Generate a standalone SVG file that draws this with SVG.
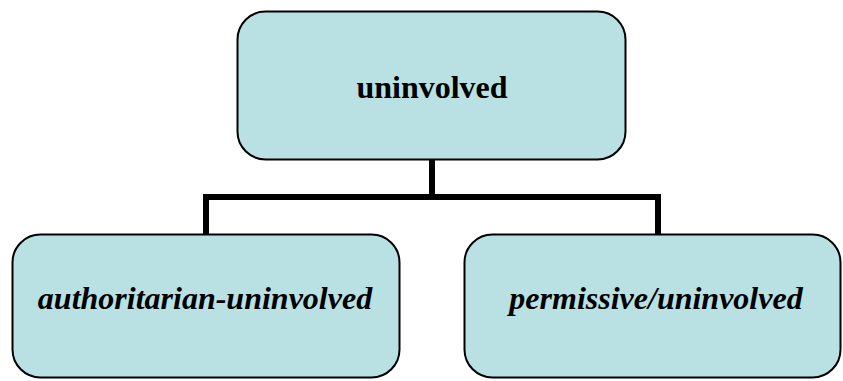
<svg xmlns="http://www.w3.org/2000/svg" width="843" height="381" viewBox="0 0 843 381">
  <style>
    .box { fill: #B9E0E3; stroke: #000; stroke-width: 2; }
    .lbl { font-family: 'Liberation Serif', serif; font-size: 32px; font-weight: 700; fill: #000; text-anchor: middle; }
    .it { font-style: italic; }
    .wire { fill: none; stroke: #000; stroke-width: 6; stroke-linejoin: miter; stroke-linecap: butt; }
  </style>
  <rect width="843" height="381" fill="#fff"/>
  <g id="connectors">
    <path class="wire" d="M432 160 V197 M206 235 V197 H658 V235"/>
  </g>
  <g id="node-uninvolved">
    <rect class="box" x="237.5" y="11.5" width="388" height="148" rx="28" ry="28"/>
    <text class="lbl" x="432" y="98">uninvolved</text>
  </g>
  <g id="node-authoritarian-uninvolved">
    <rect class="box" x="12.5" y="234.5" width="387" height="143" rx="28" ry="28"/>
    <text class="lbl it" x="205" y="309">authoritarian-uninvolved</text>
  </g>
  <g id="node-permissive-uninvolved">
    <rect class="box" x="464.5" y="234.5" width="376" height="143" rx="28" ry="28"/>
    <text class="lbl it" x="656" y="309">permissive/uninvolved</text>
  </g>
</svg>
